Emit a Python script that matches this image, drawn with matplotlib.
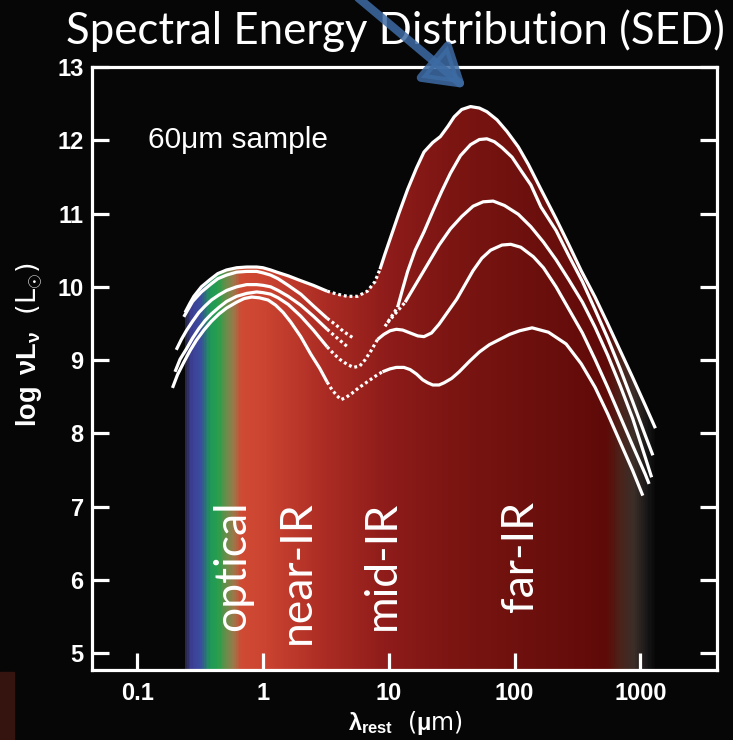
import numpy as np
import matplotlib
matplotlib.use("Agg")
import matplotlib.pyplot as plt
from matplotlib.colors import LinearSegmentedColormap, Normalize
from matplotlib.patches import Polygon, Rectangle, FancyArrowPatch
from matplotlib.ticker import FixedLocator, NullLocator

plt.rcParams['mathtext.fontset'] = 'custom'
plt.rcParams['mathtext.rm'] = 'Liberation Sans:bold'
plt.rcParams['mathtext.it'] = 'Liberation Sans:bold'
plt.rcParams['mathtext.bf'] = 'Liberation Sans:bold'

# SEDs of the 60um sample, log10(lambda/um) vs log(nu L_nu / Lsun)
# each SED: optical/near-IR (solid), mid-IR (dotted), far-IR (solid)
a_opt_x = [-0.62, -0.58, -0.55, -0.49, -0.42, -0.36, -0.29, -0.21, -0.13, -0.05, 0.0, 0.06, 0.11, 0.20, 0.29, 0.40, 0.51]
a_opt_y = [9.65, 9.78, 9.87, 10.00, 10.10, 10.18, 10.23, 10.26, 10.27, 10.27, 10.26, 10.23, 10.20, 10.15, 10.09, 10.02, 9.94]
a_mir_x = [0.51, 0.59, 0.67, 0.75, 0.83, 0.89, 0.93]
a_mir_y = [9.94, 9.90, 9.87, 9.87, 9.94, 10.07, 10.24]
a_fir_x = [0.93, 0.97, 1.01, 1.08, 1.15, 1.22, 1.28, 1.35, 1.41, 1.47, 1.52, 1.58, 1.65, 1.72, 1.78, 1.86, 1.94,
           2.03, 2.11, 2.21, 2.33, 2.43, 2.53, 2.64, 2.74, 2.84, 2.94, 3.04, 3.12]
a_fir_y = [10.24, 10.45, 10.65, 11.00, 11.33, 11.62, 11.84, 11.97, 12.05, 12.19, 12.32, 12.42, 12.46, 12.44, 12.39,
           12.28, 12.12, 11.91, 11.67, 11.33, 10.93, 10.58, 10.22, 9.86, 9.50, 9.13, 8.76, 8.38, 8.07]

b_opt_x = [-0.63, -0.59, -0.56, -0.49, -0.42, -0.36, -0.29, -0.21, -0.13, -0.05, 0.0, 0.06, 0.12, 0.20, 0.30, 0.40, 0.51]
b_opt_y = [9.59, 9.71, 9.80, 9.93, 10.03, 10.11, 10.16, 10.20, 10.21, 10.21, 10.19, 10.16, 10.11, 10.02, 9.90, 9.74, 9.57]
b_mir1_x = [0.51, 0.58, 0.64, 0.71]
b_mir1_y = [9.57, 9.48, 9.39, 9.31]
b_mir2_x = [0.97, 1.02, 1.07]
b_mir2_y = [9.46, 9.59, 9.72]
b_fir_x = [1.07, 1.11, 1.15, 1.21, 1.28, 1.35, 1.42, 1.49, 1.57, 1.65, 1.72, 1.78, 1.84, 1.90, 1.98, 2.05, 2.13,
           2.21, 2.33, 2.43, 2.54, 2.64, 2.74, 2.84, 2.94, 3.04, 3.10]
b_fir_y = [9.72, 9.97, 10.21, 10.50, 10.75, 11.03, 11.30, 11.55, 11.79, 11.94, 12.01, 12.02, 11.98, 11.90, 11.77,
           11.59, 11.39, 11.09, 10.77, 10.43, 10.07, 9.69, 9.30, 8.88, 8.43, 7.97, 7.70]

c_opt_x = [-0.69, -0.65, -0.61, -0.56, -0.51, -0.46, -0.41, -0.35, -0.29, -0.21, -0.13, -0.05, 0.0, 0.06, 0.12, 0.20,
           0.30, 0.40, 0.51]
c_opt_y = [9.14, 9.28, 9.40, 9.53, 9.65, 9.74, 9.82, 9.89, 9.95, 10.0, 10.03, 10.03, 10.02, 10.0, 9.95, 9.87, 9.75,
           9.60, 9.42]
c_mir1_x = [0.51, 0.59, 0.68]
c_mir1_y = [9.42, 9.30, 9.17]
c_mir2_x = [0.99, 1.06, 1.13]
c_mir2_y = [9.51, 9.65, 9.79]
c_fir_x = [1.13, 1.22, 1.31, 1.40, 1.49, 1.58, 1.67, 1.75, 1.83, 1.92, 2.03, 2.13, 2.23, 2.33, 2.43, 2.54, 2.64,
           2.74, 2.84, 2.94, 3.04, 3.09]
c_fir_y = [9.79, 10.05, 10.31, 10.57, 10.79, 10.96, 11.10, 11.16, 11.17, 11.11, 10.99, 10.82, 10.61, 10.37, 10.10,
           9.79, 9.45, 9.07, 8.65, 8.20, 7.67, 7.40]

d_opt_x = [-0.70, -0.66, -0.61, -0.56, -0.51, -0.46, -0.41, -0.35, -0.29, -0.21, -0.13, -0.05, 0.0, 0.06, 0.12, 0.20,
           0.30, 0.40, 0.51]
d_opt_y = [8.84, 9.01, 9.15, 9.30, 9.43, 9.54, 9.63, 9.72, 9.80, 9.87, 9.91, 9.93, 9.92, 9.90, 9.85, 9.76, 9.60,
           9.41, 9.18]
d_mir_x = [0.51, 0.56, 0.61, 0.67, 0.72, 0.77, 0.81, 0.86, 0.91]
d_mir_y = [9.18, 9.09, 9.01, 8.94, 8.90, 8.92, 9.00, 9.13, 9.28]
d_fir_x = [0.91, 0.96, 1.01, 1.06, 1.11, 1.17, 1.23, 1.28, 1.34, 1.40, 1.47, 1.54, 1.60, 1.67, 1.74, 1.81, 1.90,
           1.97, 2.05, 2.15, 2.23, 2.33, 2.43, 2.54, 2.64, 2.74, 2.84, 2.94, 3.04, 3.07]
d_fir_y = [9.28, 9.35, 9.40, 9.42, 9.41, 9.37, 9.33, 9.32, 9.37, 9.49, 9.66, 9.83, 10.01, 10.22, 10.39, 10.50, 10.57,
           10.58, 10.54, 10.41, 10.26, 10.00, 9.70, 9.37, 9.01, 8.63, 8.23, 7.83, 7.44, 7.31]

e_opt_x = [-0.72, -0.68, -0.63, -0.58, -0.53, -0.47, -0.41, -0.35, -0.29, -0.21, -0.15, -0.09, -0.03, 0.04, 0.10,
           0.16, 0.22, 0.30, 0.38, 0.45, 0.51]
e_opt_y = [8.62, 8.80, 8.97, 9.13, 9.27, 9.41, 9.53, 9.63, 9.71, 9.79, 9.84, 9.86, 9.85, 9.82, 9.75, 9.65, 9.52,
           9.32, 9.08, 8.89, 8.70]
e_mir_x = [0.51, 0.55, 0.59, 0.62, 0.66, 0.71, 0.76, 0.81, 0.86, 0.91, 0.95]
e_mir_y = [8.70, 8.59, 8.51, 8.46, 8.49, 8.55, 8.62, 8.68, 8.74, 8.80, 8.84]
e_fir_x = [0.95, 1.01, 1.06, 1.12, 1.17, 1.22, 1.27, 1.31, 1.35, 1.40, 1.44, 1.50, 1.56, 1.64, 1.72, 1.80, 1.88,
           1.96, 2.04, 2.14, 2.27, 2.41, 2.53, 2.64, 2.74, 2.84, 2.94, 3.02]
e_fir_y = [8.84, 8.88, 8.90, 8.90, 8.87, 8.81, 8.73, 8.69, 8.66, 8.66, 8.69, 8.75, 8.84, 8.98, 9.11, 9.21, 9.28,
           9.35, 9.40, 9.44, 9.38, 9.22, 8.95, 8.63, 8.27, 7.88, 7.49, 7.15]

band_names = ['optical', 'near-IR', 'mid-IR', 'far-IR']
band_um = [0.57, 1.86, 8.85, 111.0]

x_ticks = [0.1, 1, 10, 100, 1000]
x_ticklabels = ['0.1', '1', '10', '100', '1000']
y_ticks = [5, 6, 7, 8, 9, 10, 11, 12, 13]

# colour of the band underneath the SEDs, keyed on log10(lambda)
SPECTRUM = [(-0.68, '#060606'), (-0.62, '#28284f'), (-0.57, '#3d3f98'), (-0.50, '#3b4d9e'),
            (-0.43, '#1f9657'), (-0.36, '#28a04c'), (-0.30, '#62904a'), (-0.24, '#98794a'),
            (-0.18, '#cf4a33'), (0.0, '#cc4431'), (0.5, '#aa2b23'), (1.0, '#8d1b19'),
            (1.5, '#7b1512'), (2.0, '#6f110e'), (2.5, '#650c0a'), (2.74, '#5d0a08'),
            (2.84, '#4b2219'), (2.96, '#3b2e29'), (3.05, '#1a1818'), (3.14, '#060606')]

BG = '#060606'

fig = plt.figure(figsize=(7.33, 7.40), dpi=100, facecolor=BG)
ax = fig.add_axes([92 / 733, 1 - 670 / 740, 625 / 733, 603 / 740])
ax.set_facecolor(BG)
ax.set_xscale('log')
ax.set_xlim(10 ** -1.36, 10 ** 3.61)
ax.set_ylim(4.77, 13.0)

# coloured wavelength band, clipped under the brightest SED
lo, hi = SPECTRUM[0][0], SPECTRUM[-1][0]
cmap = LinearSegmentedColormap.from_list(
    'band', [((p - lo) / (hi - lo), c) for p, c in SPECTRUM])
edges = np.linspace(lo, hi, 600)
mesh = ax.pcolormesh(10 ** edges, [4.0, 13.5],
                     ((edges[:-1] + edges[1:]) / 2)[None, :],
                     cmap=cmap, norm=Normalize(lo, hi), shading='flat', zorder=1)
top_x = np.array(a_opt_x + a_mir_x + a_fir_x)
top_y = np.array(a_opt_y + a_mir_y + a_fir_y)
verts = list(zip(10 ** top_x, top_y)) + [(10 ** top_x[-1], 4.0), (10 ** top_x[0], 4.0)]
clip = Polygon(verts, closed=True, transform=ax.transData)
mesh.set_clip_path(clip)

solid = [(a_opt_x, a_opt_y), (a_fir_x, a_fir_y),
         (b_opt_x, b_opt_y), (b_fir_x, b_fir_y),
         (c_opt_x, c_opt_y), (c_fir_x, c_fir_y),
         (d_opt_x, d_opt_y), (d_fir_x, d_fir_y),
         (e_opt_x, e_opt_y), (e_fir_x, e_fir_y)]
dotted = [(a_mir_x, a_mir_y), (b_mir1_x, b_mir1_y), (b_mir2_x, b_mir2_y),
          (c_mir1_x, c_mir1_y), (c_mir2_x, c_mir2_y),
          (d_mir_x, d_mir_y), (e_mir_x, e_mir_y)]
for xs, ys in solid:
    ax.plot(10 ** np.array(xs), ys, color='white', lw=2.3, solid_joinstyle='round',
            solid_capstyle='butt', zorder=3)
for xs, ys in dotted:
    ax.plot(10 ** np.array(xs), ys, color='white', lw=2.3, linestyle=(0, (0.9, 0.9)),
            dash_capstyle='butt', zorder=3)

band_font = dict(family=['Lato', 'DejaVu Sans'], color='white', fontsize=32)
for name, um in zip(band_names, band_um):
    ax.text(um, 7.08, name, rotation=90, ha='center', va='top', zorder=4, **band_font)

ax.text(0.1216, 12.0, '60\u03bcm sample', color='white', fontsize=21.5,
        family='Liberation Sans', ha='left', va='center', zorder=4)

for s in ax.spines.values():
    s.set_color('white')
    s.set_linewidth(2.3)
    s.set_zorder(5)
ax.xaxis.set_major_locator(FixedLocator(x_ticks))
ax.xaxis.set_minor_locator(NullLocator())
ax.set_xticklabels(x_ticklabels)
ax.set_yticks(y_ticks)
ax.tick_params(axis='both', which='major', direction='in', length=12.5, width=2.3,
               color='white', labelcolor='white', labelsize=17)
ax.tick_params(axis='y', left=True, right=True, pad=6)
ax.tick_params(axis='x', bottom=True, top=False, pad=9)
for lab in ax.get_xticklabels() + ax.get_yticklabels():
    lab.set_family('Liberation Sans')
    lab.set_fontweight('bold')

fig.text(405 / 733, 1 - 723 / 740, r'$\lambda_{rest}$  ($\mu$m)', color='white',
         fontsize=17, ha='center', va='center')
fig.text(30 / 733, 1 - 345 / 740, r'$\log\ \nu L_{\nu}$  (L$_{\odot}$)', color='white',
         fontsize=19.5, ha='center', va='center', rotation=90)

fig.text(395 / 733, 1 - 31 / 740, 'Spectral Energy Distribution (SED)', color='white',
         fontsize=31.5, family=['Lato', 'DejaVu Sans'], ha='center', va='center')

arrow = FancyArrowPatch((356 / 733, 1 + 4 / 740), (468 / 733, 1 - 90 / 740),
                        transform=fig.transFigure, arrowstyle='-|>,head_length=1.2,head_width=0.75',
                        mutation_scale=20, lw=6, color='#3d6ba3', alpha=0.85, zorder=10)
fig.patches.append(arrow)
fig.patches.append(Rectangle((0, 0), 14 / 733, 68 / 740, transform=fig.transFigure,
                             color='#35140f', zorder=0))

fig.savefig('out.png', dpi=100, facecolor=BG)
